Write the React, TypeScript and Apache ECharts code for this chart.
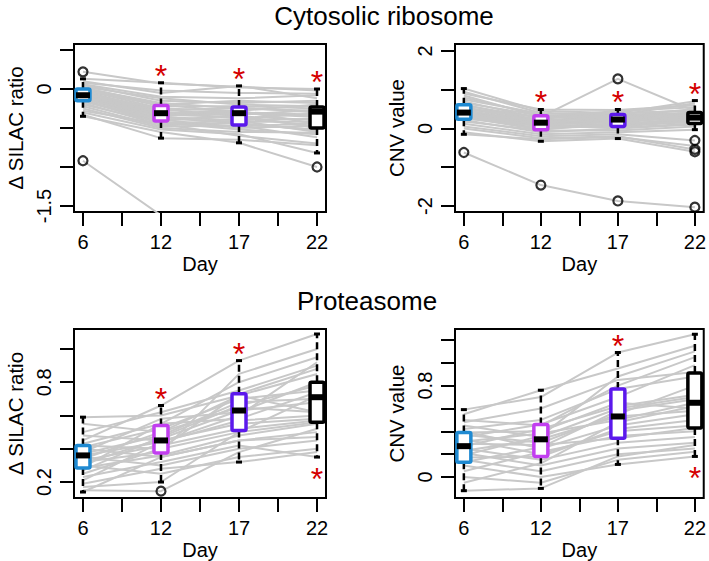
import React, { useEffect, useRef } from "react";
import * as echarts from "echarts";

// ---------- data ----------
const DAYS = ["6", "12", "17", "22"];
const BOX_COLORS = ["#1f8ad2", "#c23ff0", "#5b18ec", "#000000"];

// box stats per day: [lowWhisker, Q1, median, Q3, highWhisker]
const riboSilacBox = [
  [-0.35, -0.15, -0.08, 0.0, 0.13],
  [-0.63, -0.41, -0.31, -0.21, 0.08],
  [-0.69, -0.46, -0.31, -0.23, 0.04],
  [-0.82, -0.5, -0.29, -0.23, 0.0],
];
const riboCnvBox = [
  [-0.15, 0.24, 0.41, 0.61, 1.03],
  [-0.33, -0.03, 0.15, 0.33, 0.49],
  [-0.26, 0.05, 0.23, 0.36, 0.49],
  [-0.03, 0.13, 0.28, 0.41, 0.72],
];
const protSilacBox = [
  [0.14, 0.285, 0.36, 0.42, 0.59],
  [0.2, 0.375, 0.45, 0.54, 0.66],
  [0.32, 0.51, 0.63, 0.73, 0.93],
  [0.35, 0.56, 0.71, 0.8, 1.09],
];
const protCnvBox = [
  [-0.12, 0.13, 0.27, 0.39, 0.59],
  [-0.1, 0.18, 0.33, 0.46, 0.76],
  [0.11, 0.34, 0.53, 0.77, 1.09],
  [0.18, 0.43, 0.65, 0.91, 1.25],
];

// significance star: 1 = above box, -1 = below, 0 = none
const riboSilacSig = [0, 1, 1, 1];
const riboCnvSig = [0, 1, 1, 1];
const protSilacSig = [0, 1, 1, -1];
const protCnvSig = [0, 0, 1, -1];

// outliers: [dayPosition, value]
const riboSilacOut = [[1, 0.22], [1, -0.92], [4, -1.0]];
const riboCnvOut = [[1, -0.62], [2, -1.46], [3, 1.28], [3, -1.87], [4, -0.31], [4, -0.54], [4, -0.6], [4, -2.03]];
const protSilacOut = [[2, 0.145]];
const protCnvOut: number[][] = [];

// individual protein profiles (day 6, 12, 17, 22)
const riboSilacLines = [
  [0.22, 0.07, 0.03, -0.02], [0.13, 0.08, 0.02, 0.0], [0.1, -0.05, 0.04, -0.12], [0.08, -0.02, -0.05, -0.06],
  [0.06, -0.1, -0.12, -0.08], [0.05, -0.15, -0.18, -0.15], [0.03, -0.12, -0.2, -0.22], [0.02, -0.2, -0.15, -0.18],
  [0.01, -0.18, -0.25, -0.28], [0.0, -0.22, -0.22, -0.25], [-0.01, -0.25, -0.28, -0.2], [-0.02, -0.2, -0.3, -0.35],
  [-0.03, -0.28, -0.24, -0.3], [-0.04, -0.3, -0.33, -0.27], [-0.05, -0.26, -0.35, -0.4], [-0.06, -0.32, -0.3, -0.33],
  [-0.07, -0.29, -0.38, -0.31], [-0.08, -0.34, -0.31, -0.36], [-0.08, -0.31, -0.28, -0.45], [-0.09, -0.36, -0.4, -0.38],
  [-0.1, -0.33, -0.36, -0.48], [-0.11, -0.38, -0.42, -0.42], [-0.12, -0.4, -0.34, -0.5], [-0.13, -0.35, -0.45, -0.52],
  [-0.14, -0.42, -0.48, -0.44], [-0.15, -0.44, -0.41, -0.55], [-0.16, -0.39, -0.5, -0.47], [-0.18, -0.46, -0.44, -0.53],
  [-0.2, -0.43, -0.52, -0.58], [-0.22, -0.48, -0.47, -0.62], [-0.25, -0.5, -0.55, -0.56], [-0.28, -0.45, -0.6, -0.7],
  [-0.3, -0.52, -0.58, -0.82], [-0.33, -0.63, -0.65, -0.72], [-0.35, -0.55, -0.69, -1.0], [-0.92, -1.62, -1.95, -2.1],
];
const riboCnvLines = [
  [1.03, 0.45, 0.4, 0.7], [0.95, 0.4, 0.35, 0.65], [0.9, 0.49, 0.48, 0.6], [0.85, 0.3, 0.45, 0.55],
  [0.8, 0.35, 0.3, 0.5], [0.75, 0.38, 0.4, 0.45], [0.7, 0.25, 0.38, 0.48], [0.66, 0.33, 0.28, 0.42],
  [0.62, 0.2, 0.35, 0.4], [0.59, 0.28, 0.33, 0.38], [0.55, 0.22, 0.25, 0.41], [0.52, 0.18, 0.3, 0.35],
  [0.5, 0.3, 1.28, 0.45], [0.48, 0.15, 0.22, 0.33], [0.45, 0.1, 0.28, 0.3], [0.43, 0.17, 0.2, 0.36],
  [0.41, 0.12, 0.18, 0.28], [0.4, 0.08, 0.24, 0.25], [0.38, 0.2, 0.15, 0.32], [0.36, 0.05, 0.12, 0.22],
  [0.34, 0.14, 0.1, 0.27], [0.32, 0.0, 0.08, 0.2], [0.3, 0.1, 0.05, 0.18], [0.28, -0.03, 0.14, 0.15],
  [0.26, 0.06, 0.02, 0.13], [0.22, -0.1, 0.0, 0.1], [0.18, -0.05, -0.05, 0.05], [0.12, -0.15, -0.1, -0.03],
  [0.05, -0.2, -0.15, -0.31], [0.0, -0.25, -0.2, -0.54], [-0.1, -0.33, -0.26, -0.6], [-0.15, -0.28, -0.22, -0.45],
  [-0.62, -1.46, -1.87, -2.03],
];
const protSilacLines = [
  [0.59, 0.6, 0.72, 0.85], [0.55, 0.5, 0.65, 0.62], [0.5, 0.62, 0.75, 0.9], [0.48, 0.45, 0.55, 0.58],
  [0.45, 0.66, 0.93, 1.09], [0.43, 0.55, 0.8, 0.95], [0.42, 0.4, 0.5, 0.56], [0.41, 0.52, 0.7, 0.75],
  [0.4, 0.35, 0.45, 0.5], [0.38, 0.58, 0.62, 0.8], [0.37, 0.48, 0.68, 0.7], [0.36, 0.44, 0.6, 0.92],
  [0.35, 0.3, 0.4, 0.45], [0.34, 0.5, 0.72, 0.62], [0.33, 0.42, 0.52, 0.57], [0.32, 0.38, 0.85, 1.0],
  [0.31, 0.46, 0.63, 0.68], [0.3, 0.25, 0.35, 0.4], [0.29, 0.55, 0.58, 0.74], [0.285, 0.36, 0.48, 0.55],
  [0.27, 0.47, 0.66, 0.78], [0.25, 0.4, 0.73, 0.88], [0.23, 0.32, 0.42, 0.35], [0.21, 0.44, 0.57, 0.6],
  [0.19, 0.28, 0.32, 0.38], [0.17, 0.2, 0.5, 0.72], [0.15, 0.145, 0.38, 0.52], [0.14, 0.35, 0.45, 0.47],
];
const protCnvLines = [
  [0.59, 0.7, 1.09, 1.25], [0.55, 0.76, 0.95, 1.15], [0.5, 0.45, 0.8, 1.05], [0.48, 0.6, 0.85, 0.92],
  [0.45, 0.35, 0.6, 0.7], [0.42, 0.5, 0.77, 0.88], [0.4, 0.25, 0.45, 0.55], [0.39, 0.4, 0.65, 0.6],
  [0.37, 0.3, 0.55, 0.8], [0.35, 0.46, 0.7, 0.98], [0.33, 0.2, 0.4, 0.45], [0.31, 0.38, 0.5, 0.65],
  [0.29, 0.28, 0.34, 0.43], [0.27, 0.42, 0.62, 0.72], [0.25, 0.15, 0.3, 0.35], [0.23, 0.33, 0.53, 0.58],
  [0.21, 0.1, 0.25, 0.3], [0.19, 0.36, 0.88, 1.1], [0.17, 0.18, 0.42, 0.5], [0.15, 0.05, 0.2, 0.25],
  [0.13, 0.26, 0.58, 0.68], [0.1, 0.0, 0.11, 0.18], [0.05, 0.22, 0.36, 0.4], [0.0, -0.05, 0.15, 0.22],
  [-0.05, 0.12, 0.48, 0.62], [-0.12, -0.1, 0.18, 0.28],
];

// axis ticks / labels
const riboSilacTicks = [-1.5, -1, -0.5, 0, 0.5];
const riboSilacLabels = [-1.5, 0];
const riboCnvTicks = [-2, -1, 0, 1, 2];
const riboCnvLabels = [-2, 0, 2];
const protSilacTicks = [0.2, 0.4, 0.6, 0.8, 1.0];
const protSilacLabels = [0.2, 0.8];
const protCnvTicks = [0, 0.2, 0.4, 0.6, 0.8, 1.0, 1.2];
const protCnvLabels = [0, 0.8];
const X_TICKS = [1, 1.5, 2, 2.5, 3, 3.5, 4];
const X_LABELS = [1, 2, 3, 4];

const FONT = "Liberation Sans, Arial, Helvetica, sans-serif";

const panels = [
  { box: riboSilacBox, sig: riboSilacSig, out: riboSilacOut, lines: riboSilacLines, ticks: riboSilacTicks, labels: riboSilacLabels, name: "\u0394 SILAC ratio", min: -1.577, max: 0.577, grid: { left: 74, top: 44, width: 252, height: 168 } },
  { box: riboCnvBox, sig: riboCnvSig, out: riboCnvOut, lines: riboCnvLines, ticks: riboCnvTicks, labels: riboCnvLabels, name: "CNV value", min: -2.155, max: 2.18, grid: { left: 455, top: 44, width: 252, height: 168 } },
  { box: protSilacBox, sig: protSilacSig, out: protSilacOut, lines: protSilacLines, ticks: protSilacTicks, labels: protSilacLabels, name: "\u0394 SILAC ratio", min: 0.104, max: 1.12, grid: { left: 74, top: 329, width: 252, height: 169 } },
  { box: protCnvBox, sig: protCnvSig, out: protCnvOut, lines: protCnvLines, ticks: protCnvTicks, labels: protCnvLabels, name: "CNV value", min: -0.184, max: 1.296, grid: { left: 455, top: 329, width: 252, height: 169 } },
];

function buildOption() {
  const grids: any[] = [];
  const xAxes: any[] = [];
  const yAxes: any[] = [];
  const series: any[] = [];

  panels.forEach((p, i) => {
    grids.push({ ...p.grid, show: true, borderColor: "#000", borderWidth: 2, backgroundColor: "transparent" });
    xAxes.push({
      type: "value", gridIndex: i, min: 0.885, max: 4.115,
      axisLine: { show: false, onZero: false },
      splitLine: { show: false },
      axisTick: { show: true, length: 14, customValues: X_TICKS, lineStyle: { color: "#000", width: 2 } },
      axisLabel: { customValues: X_LABELS, formatter: (v: number) => DAYS[Math.round(v) - 1], fontSize: 20, color: "#000", fontFamily: FONT, margin: 20 },
      name: "Day", nameLocation: "middle", nameGap: 42,
      nameTextStyle: { fontSize: 20, color: "#000", fontFamily: FONT },
    });
    yAxes.push({
      type: "value", gridIndex: i, min: p.min, max: p.max,
      axisLine: { show: false, onZero: false },
      splitLine: { show: false },
      axisTick: { show: true, length: 14, customValues: p.ticks, lineStyle: { color: "#000", width: 2 } },
      axisLabel: { customValues: p.labels, rotate: 90, formatter: (v: number) => String(v), fontSize: 20, color: "#000", fontFamily: FONT, margin: 20 },
      name: p.name, nameLocation: "middle", nameGap: 48,
      nameTextStyle: { fontSize: 20.5, color: "#000", fontFamily: FONT },
    });

    p.lines.forEach((row) => {
      series.push({
        type: "line", xAxisIndex: i, yAxisIndex: i, silent: true, z: 1,
        symbol: "none", data: row.map((v, j) => [j + 1, v]),
        lineStyle: { color: "#c8c8c8", width: 2 },
      });
    });

    series.push({
      type: "custom", xAxisIndex: i, yAxisIndex: i, z: 5, silent: true,
      data: p.box.map((b, j) => [j + 1, ...b, p.sig[j]]),
      renderItem: (params: any, api: any) => {
        const x = api.value(0);
        const lo = api.coord([x, api.value(1)]);
        const q1 = api.coord([x, api.value(2)]);
        const md = api.coord([x, api.value(3)]);
        const q3 = api.coord([x, api.value(4)]);
        const hi = api.coord([x, api.value(5)]);
        const sig = api.value(6);
        const cx = lo[0];
        const color = BOX_COLORS[params.dataIndex];
        const hw = 7;
        const children: any[] = [
          { type: "line", shape: { x1: cx, y1: q1[1], x2: cx, y2: lo[1] }, style: { stroke: "#000", lineWidth: 2.5, lineDash: [7, 4] } },
          { type: "line", shape: { x1: cx, y1: q3[1], x2: cx, y2: hi[1] }, style: { stroke: "#000", lineWidth: 2.5, lineDash: [7, 4] } },
          { type: "line", shape: { x1: cx - 3, y1: lo[1], x2: cx + 3, y2: lo[1] }, style: { stroke: "#000", lineWidth: 3 } },
          { type: "line", shape: { x1: cx - 3, y1: hi[1], x2: cx + 3, y2: hi[1] }, style: { stroke: "#000", lineWidth: 3 } },
          { type: "rect", shape: { x: cx - hw, y: q3[1], width: hw * 2, height: q1[1] - q3[1], r: 1.5 }, style: { fill: "#fff", stroke: color, lineWidth: 3.5, lineJoin: "round" } },
          { type: "rect", shape: { x: cx - hw, y: md[1] - 3, width: hw * 2, height: 6 }, style: { fill: "#000" } },
        ];
        if (sig !== 0) {
          const ty = sig > 0 ? hi[1] - 14 : lo[1] + 15;
          children.push({
            type: "text", x: cx, y: ty + 7,
            style: { text: "*", fill: "#d40000", font: `32px ${FONT}`, textAlign: "center", textVerticalAlign: "middle" },
          });
        }
        return { type: "group", children };
      },
    });

    series.push({
      type: "scatter", xAxisIndex: i, yAxisIndex: i, z: 6, silent: true,
      data: p.out, symbol: "circle", symbolSize: 9,
      itemStyle: { color: "transparent", borderColor: "#000", borderWidth: 2.2 },
    });
  });

  return {
    animation: false,
    backgroundColor: "#fff",
    textStyle: { fontFamily: FONT },
    grid: grids,
    xAxis: xAxes,
    yAxis: yAxes,
    series,
    graphic: [
      { type: "text", x: 384, y: 16, style: { text: "Cytosolic ribosome", font: `26px ${FONT}`, fill: "#000", textAlign: "center", textVerticalAlign: "middle" } },
      { type: "text", x: 367, y: 301, style: { text: "Proteasome", font: `26px ${FONT}`, fill: "#000", textAlign: "center", textVerticalAlign: "middle" } },
    ],
  };
}

export default function App() {
  const ref = useRef<HTMLDivElement>(null);
  useEffect(() => {
    if (!ref.current) return;
    const chart = echarts.init(ref.current, null, { renderer: "svg" });
    chart.setOption(buildOption() as any);
    return () => chart.dispose();
  }, []);
  return <div ref={ref} style={{ position: "absolute", left: 0, top: 0, width: 709, height: 561 }} />;
}
